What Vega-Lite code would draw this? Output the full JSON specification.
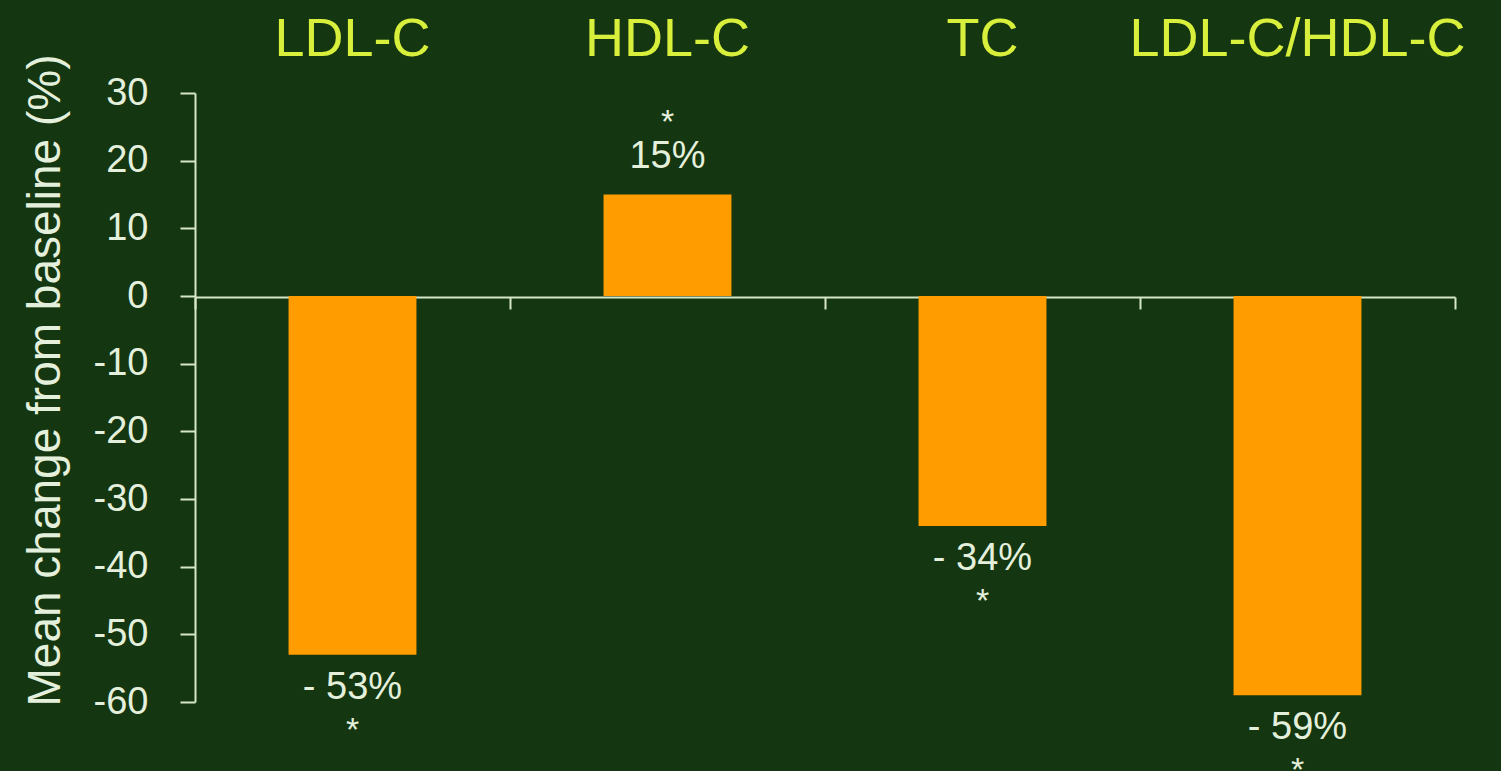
{
  "$schema": "https://vega.github.io/schema/vega-lite/v6.json",
  "width": 1260,
  "height": 609,
  "autosize": {"type": "none"},
  "padding": {"left": 195, "top": 93, "right": 46, "bottom": 69},
  "background": "#143611",
  "config": {
    "view": {"stroke": null},
    "font": "Liberation Sans"
  },
  "data": {
    "values": [
      {"measure": "LDL-C", "change": -53, "label": "- 53%", "star": "*"},
      {"measure": "HDL-C", "change": 15, "label": "15%", "star": "*"},
      {"measure": "TC", "change": -34, "label": "- 34%", "star": "*"},
      {"measure": "LDL-C/HDL-C", "change": -59, "label": "- 59%", "star": "*"}
    ]
  },
  "encoding": {
    "x": {
      "field": "measure",
      "type": "nominal",
      "sort": null,
      "axis": null,
      "scale": {"paddingInner": 0, "paddingOuter": 0}
    },
    "y": {
      "field": "change",
      "type": "quantitative",
      "scale": {"domain": [-60, 30], "nice": false, "zero": false},
      "axis": {
        "values": [30, 20, 10, 0, -10, -20, -30, -40, -50, -60],
        "grid": false,
        "title": "Mean change from baseline (%)",
        "titleFont": "Liberation Sans",
        "titleFontSize": 46,
        "titleFontWeight": "normal",
        "titleColor": "#e4f0dc",
        "titlePadding": 24,
        "titleY": 287,
        "labelFontSize": 38,
        "labelColor": "#e4f0dc",
        "labelPadding": 32,
        "labelExpr": "replace(datum.label, '−', '-')",
        "domainColor": "#d6e6c8",
        "domainWidth": 2,
        "tickColor": "#d6e6c8",
        "tickWidth": 2,
        "tickSize": 15
      }
    }
  },
  "layer": [
    {
      "mark": {"type": "bar", "color": "#ff9c00", "width": {"band": 0.406}},
      "encoding": {
        "x": {
          "field": "measure",
          "type": "nominal",
          "sort": null,
          "axis": {
            "orient": "bottom",
            "offset": -405,
            "labels": false,
            "title": null,
            "tickBand": "extent",
            "domainColor": "#d6e6c8",
            "domainWidth": 2,
            "tickColor": "#d6e6c8",
            "tickWidth": 2,
            "tickSize": 12
          }
        }
      }
    },
    {
      "mark": {"type": "text", "opacity": 0},
      "encoding": {
        "x": {
          "field": "measure",
          "type": "nominal",
          "sort": null,
          "axis": {
            "orient": "top",
            "title": null,
            "domain": false,
            "ticks": false,
            "labelAngle": 0,
            "labelLimit": 0,
            "labelFontSize": 54,
            "labelColor": "#d8f03c",
            "labelPadding": 27,
            "labelFont": "Liberation Sans"
          }
        },
        "text": {"field": "label"}
      }
    },
    {
      "transform": [{"filter": "datum.change < 0"}],
      "mark": {"type": "text", "fontSize": 38, "color": "#e4f0dc", "baseline": "middle", "dy": 33},
      "encoding": {"text": {"field": "label"}}
    },
    {
      "transform": [{"filter": "datum.change < 0"}],
      "mark": {"type": "text", "fontSize": 34, "color": "#e4f0dc", "baseline": "middle", "dy": 76},
      "encoding": {"text": {"field": "star"}}
    },
    {
      "transform": [{"filter": "datum.change > 0"}],
      "mark": {"type": "text", "fontSize": 38, "color": "#e4f0dc", "baseline": "middle", "dy": -38},
      "encoding": {"text": {"field": "label"}}
    },
    {
      "transform": [{"filter": "datum.change > 0"}],
      "mark": {"type": "text", "fontSize": 34, "color": "#e4f0dc", "baseline": "middle", "dy": -72},
      "encoding": {"text": {"field": "star"}}
    }
  ],
  "resolve": {"axis": {"x": "independent"}}
}
